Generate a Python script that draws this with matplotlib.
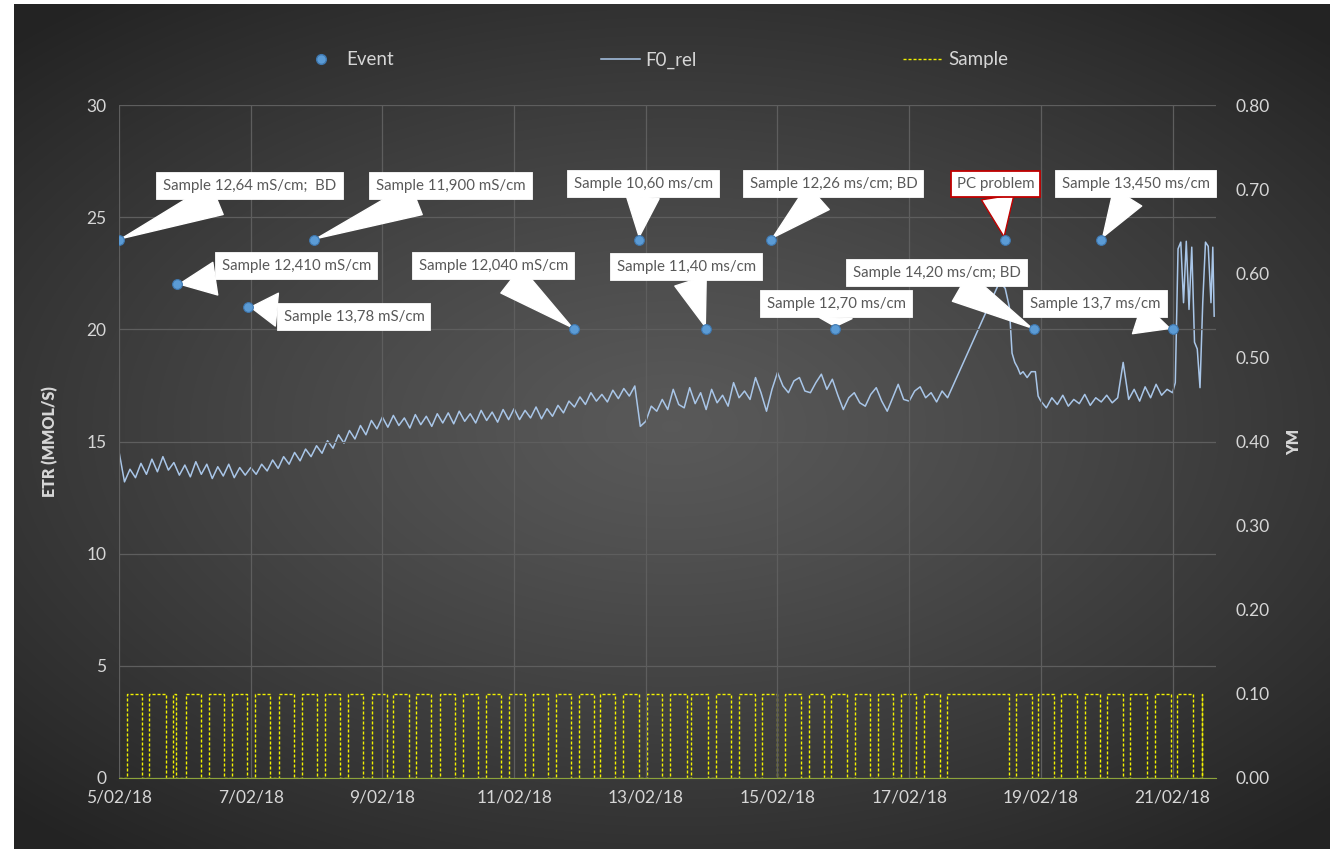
import matplotlib
matplotlib.use('Agg')
import matplotlib.pyplot as plt
from matplotlib.lines import Line2D
from matplotlib.ticker import FuncFormatter, MultipleLocator
import numpy as np
import pandas as pd

plt.rcParams['font.family'] = ['Lato', 'DejaVu Sans']

start = pd.Timestamp('2018-02-05')
end = pd.Timestamp('2018-02-21 15:50')

# Event series (left axis, ETR)
event_times = ['2018-02-05 00:00', '2018-02-05 21:00', '2018-02-06 23:00', '2018-02-07 23:00',
               '2018-02-11 22:00', '2018-02-12 21:30', '2018-02-13 22:00', '2018-02-14 21:30',
               '2018-02-15 21:00', '2018-02-18 10:45', '2018-02-18 21:30', '2018-02-19 22:00',
               '2018-02-21 00:00']
event_values = [24, 22, 21, 24, 20, 24, 20, 24, 20, 24, 20, 24, 20]
event_labels = ['Sample 12,64 mS/cm;  BD', 'Sample 12,410 mS/cm', 'Sample 13,78 mS/cm',
                'Sample 11,900 mS/cm', 'Sample 12,040 mS/cm', 'Sample 10,60 ms/cm',
                'Sample 11,40 ms/cm', 'Sample 12,26 ms/cm; BD', 'Sample 12,70 ms/cm',
                'PC problem', 'Sample 14,20 ms/cm; BD', 'Sample 13,450 ms/cm',
                'Sample 13,7 ms/cm']

# F0_rel (right axis), 2-hourly from 5/02 00:00 up to 17/02 14:00
f0_part1 = [
    0.388, 0.352, 0.367, 0.357, 0.374, 0.361, 0.379, 0.364, 0.382, 0.366, 0.375, 0.360,
    0.372, 0.358, 0.376, 0.361, 0.373, 0.356, 0.370, 0.359, 0.373, 0.357, 0.369, 0.360,
    0.369, 0.361, 0.373, 0.365, 0.378, 0.368, 0.382, 0.373, 0.387, 0.377, 0.391, 0.382,
    0.395, 0.386, 0.401, 0.392, 0.408, 0.398, 0.413, 0.403, 0.419, 0.408, 0.425, 0.415,
    0.429, 0.417, 0.431, 0.419, 0.428, 0.416, 0.432, 0.420, 0.430, 0.418, 0.433, 0.422,
    0.434, 0.421, 0.436, 0.424, 0.433, 0.422, 0.437, 0.425, 0.435, 0.423, 0.438, 0.426,
    0.439, 0.426, 0.437, 0.428, 0.441, 0.427, 0.439, 0.430, 0.443, 0.434, 0.448, 0.441,
    0.453, 0.444, 0.458, 0.448, 0.456, 0.447, 0.461, 0.451, 0.463, 0.454, 0.466, 0.418,
    0.424, 0.442, 0.436, 0.450, 0.438, 0.462, 0.444, 0.440, 0.464, 0.445, 0.458, 0.438,
    0.462, 0.446, 0.455, 0.442, 0.470, 0.452, 0.460, 0.450, 0.476, 0.458, 0.436, 0.462,
    0.482, 0.466, 0.458, 0.472, 0.476, 0.460, 0.458, 0.470, 0.480, 0.462, 0.474, 0.455,
    0.438, 0.452, 0.458, 0.446, 0.442, 0.456, 0.464, 0.448, 0.436, 0.452, 0.468, 0.450,
    0.448, 0.460, 0.465, 0.452, 0.458, 0.447, 0.460, 0.452,
]
# 18/02 after the gap
f0_mid_times = ['2018-02-18 09:00', '2018-02-18 11:00', '2018-02-18 12:30', '2018-02-18 13:30',
                '2018-02-18 14:30', '2018-02-18 15:30', '2018-02-18 16:30', '2018-02-18 17:30',
                '2018-02-18 19:00', '2018-02-18 20:30', '2018-02-18 22:00', '2018-02-18 23:00']
f0_mid = [0.590, 0.582, 0.560, 0.505, 0.494, 0.488, 0.480, 0.483, 0.476, 0.483, 0.483, 0.454]
# 2-hourly from 19/02 00:00 to 21/02 00:00
f0_part2 = [
    0.448, 0.440, 0.452, 0.444, 0.455, 0.442, 0.450, 0.445, 0.456, 0.443, 0.452, 0.447,
    0.455, 0.446, 0.452, 0.494, 0.450, 0.462, 0.448, 0.465, 0.452, 0.468, 0.455, 0.462,
    0.458,
]
f0_tail_times = ['2018-02-21 01:00', '2018-02-21 02:00', '2018-02-21 03:00', '2018-02-21 04:00',
                 '2018-02-21 05:00', '2018-02-21 06:00', '2018-02-21 07:00', '2018-02-21 08:00',
                 '2018-02-21 09:00', '2018-02-21 10:00', '2018-02-21 11:00', '2018-02-21 12:00',
                 '2018-02-21 13:00', '2018-02-21 14:00', '2018-02-21 14:40', '2018-02-21 15:10']
f0_tail = [0.470, 0.629, 0.637, 0.565, 0.638, 0.557, 0.631, 0.518, 0.510, 0.464, 0.565,
           0.637, 0.632, 0.565, 0.631, 0.549]

# Sample pulses (right axis, 0 / 0.10), start and end in days after 5/02
sample_on = [0.12, 0.46, 0.82, 1.01, 1.37, 1.72, 2.07, 2.43, 2.78, 3.13, 3.48, 3.84, 4.16, 4.51,
             4.87, 5.22, 5.57, 5.93, 6.28, 6.63, 6.98, 7.31, 7.66, 8.02, 8.37, 8.69, 9.06, 9.41,
             9.77, 10.11, 10.48, 10.81, 11.18, 11.52, 11.88, 12.22, 12.58, 13.62, 13.96, 14.30,
             14.67, 15.00, 15.36, 15.73, 16.07, 16.44]
sample_off = [0.35, 0.71, 0.87, 1.25, 1.60, 1.95, 2.30, 2.66, 3.01, 3.36, 3.71, 4.07, 4.40, 4.74,
              5.10, 5.45, 5.80, 6.16, 6.51, 6.86, 7.21, 7.54, 7.89, 8.25, 8.62, 8.94, 9.30, 9.66,
              10.00, 10.35, 10.71, 11.05, 11.41, 11.76, 12.11, 12.47, 13.51, 13.86, 14.20, 14.55,
              14.90, 15.25, 15.61, 15.97, 16.31, 16.44]
sample_level = 0.10

# label box offsets from each event point, in pixels (dx, dy)
label_offsets = [(131, 54), (120, 18), (106, -10), (137, 54), (-81, 63), (5, 56), (-20, 62),
                 (63, 56), (1, 25), (-9, 56), (-97, 56), (35, 56), (-77, 25)]

# build series
f0_x = list(pd.date_range(start, periods=len(f0_part1), freq='2h'))
f0_x += list(pd.to_datetime(f0_mid_times))
f0_x += list(pd.date_range('2018-02-19', periods=len(f0_part2), freq='2h'))
f0_x += list(pd.to_datetime(f0_tail_times))
f0_y = f0_part1 + f0_mid + f0_part2 + f0_tail

sx, sy = [0.0], [0.0]
for on, off in zip(sample_on, sample_off):
    sx += [on, on, off, off]
    sy += [0, sample_level, sample_level, 0]
sx = start + pd.to_timedelta(sx, unit='D')

txt = '#d6d6d6'

fig = plt.figure(figsize=(13.3, 8.61), dpi=100, facecolor='white')

# dark radial background
bg = fig.add_axes([14 / 1330, 12 / 861, 1 - 14 / 1330, 1 - 16 / 861])
bg.set_zorder(-10)
bg.axis('off')
gx, gy = np.meshgrid(np.linspace(-1, 1, 400), np.linspace(-1, 1, 260))
r = np.clip(np.sqrt((gx * 0.95) ** 2 + (gy * 1.05) ** 2) / 1.35, 0, 1)
shade = 0.35 - 0.21 * r ** 1.2
bg.imshow(np.dstack([shade] * 3), aspect='auto', interpolation='bicubic')

ax = fig.add_axes([119 / 1330, 1 - 778 / 861, (1216 - 119) / 1330, (778 - 105) / 861])
ax2 = ax.twinx()
ax.set_zorder(ax2.get_zorder() + 1)
ax.patch.set_visible(False)
ax2.patch.set_visible(False)

ax2.plot(sx, sy, color='#f2f200', lw=1.0, ls=(0, (2.2, 1.4)), label='Sample')
ax2.plot(f0_x, f0_y, color='#a9c6e8', lw=1.1, label='F0_rel')

ev_x = pd.to_datetime(event_times)
ax.plot(ev_x, event_values, ls='none', marker='o', ms=7, mfc='#5b9bd5', mec='#3f78b0',
        mew=0.8, zorder=6, label='Event')

for t, v, lab, (dx, dy) in zip(ev_x, event_values, event_labels, label_offsets):
    edge = '#c00000' if lab == 'PC problem' else 'white'
    ax.annotate(lab, xy=(t, v), xytext=(dx, dy), textcoords='offset pixels',
                ha='center', va='center', fontsize=10.8, color='#595959', zorder=5,
                bbox=dict(boxstyle='square,pad=0.4', fc='white', ec=edge, lw=1.3),
                arrowprops=dict(arrowstyle='wedge,tail_width=2.2,shrink_factor=0.5',
                                fc='white', ec=edge, lw=1.0, shrinkA=0, shrinkB=2))

ax.set_xlim(start, end)
ax.set_ylim(0, 30)
ax2.set_ylim(0, 0.8)
ax.yaxis.set_major_locator(MultipleLocator(5))
ax2.yaxis.set_major_locator(MultipleLocator(0.1))
ax2.yaxis.set_major_formatter(FuncFormatter(lambda v, p: f'{v:.2f}'))
ax.set_xticks(pd.date_range('2018-02-05', '2018-02-21', freq='2D'))
ax.xaxis.set_major_formatter(FuncFormatter(
    lambda v, p: f"{matplotlib.dates.num2date(v).day}/{matplotlib.dates.num2date(v):%m/%y}"))

ax.grid(True, color='#5e5e5e', lw=0.9)
for a in (ax, ax2):
    for s in a.spines.values():
        s.set_visible(False)
    a.tick_params(length=0, colors=txt, labelsize=12.5)
ax.spines['bottom'].set_visible(True)
ax.spines['bottom'].set_color('#8da33a')
ax.tick_params(axis='y', pad=9)
ax.tick_params(axis='x', pad=8)
ax2.tick_params(axis='y', pad=14)

ax.set_ylabel('ETR (MMOL/S)', color=txt, fontsize=11.5, fontweight='heavy', labelpad=20)
ax2.set_ylabel('YM', color=txt, fontsize=11.5, fontweight='heavy', labelpad=12)

handles = [Line2D([], [], ls='none', marker='o', ms=7, mfc='#5b9bd5', mec='#3f78b0'),
           Line2D([], [], color='#a9c6e8', lw=1.1),
           Line2D([], [], color='#f2f200', lw=1.0, ls=(0, (2.2, 1.4)))]
fig.legend(handles, ['Event', 'F0_rel', 'Sample'], loc='center',
           bbox_to_anchor=(655 / 1330, 1 - 60 / 861), ncol=3, frameon=False,
           fontsize=13.5, labelcolor=txt, columnspacing=11.0, handlelength=2.1,
           handletextpad=0.3)

fig.savefig('out.png', dpi=100, facecolor='white')
